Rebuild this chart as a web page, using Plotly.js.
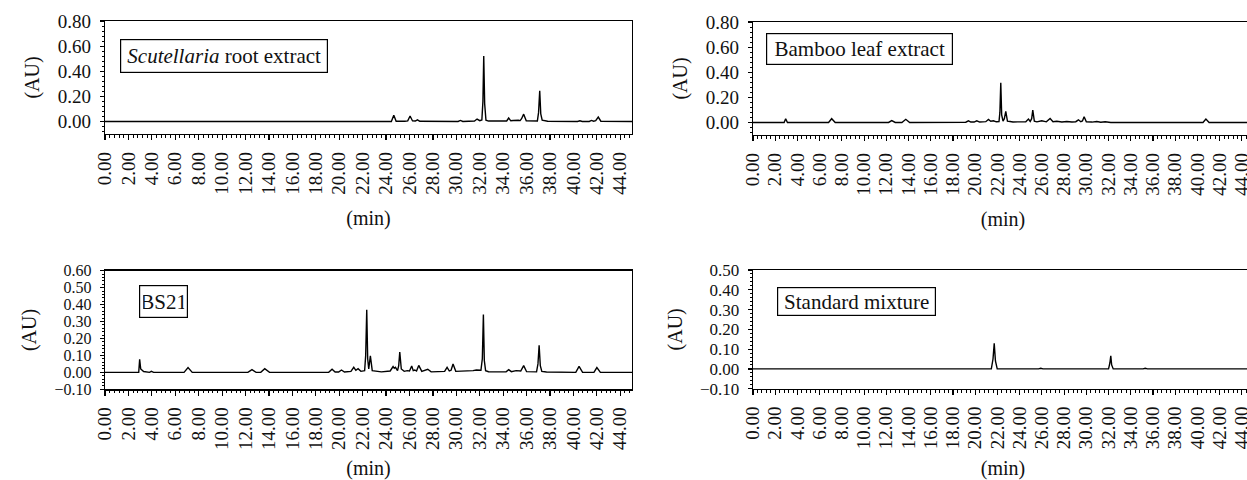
<!DOCTYPE html>
<html>
<head>
<meta charset="utf-8">
<script src="https://cdn.plot.ly/plotly-3.0.1.min.js"></script>
<style>
html,body{margin:0;padding:0;background:#fff;overflow:hidden;}
#chart{width:1260px;height:480px;}
</style>
</head>
<body>
<div id="chart"></div>
<script>
// ---- data ----
const panelLabels = ["<i>Scutellaria</i> root extract", "Bamboo leaf extract", "BS21", "Standard mixture"];
const xTickVals = [0,2,4,6,8,10,12,14,16,18,20,22,24,26,28,30,32,34,36,38,40,42,44];
const yTicksTop = [0, 0.2, 0.4, 0.6, 0.8];
const yTicksBS21 = [-0.1, 0, 0.1, 0.2, 0.3, 0.4, 0.5, 0.6];
const yTicksStd = [-0.1, 0, 0.1, 0.2, 0.3, 0.4, 0.5];

// Scutellaria root extract
const t1 = [0, 17.6, 17.8, 18.0, 21.6, 21.84, 22.1, 24.45, 24.66, 24.86, 25.6, 25.85, 26.05, 26.26, 26.5, 26.68, 26.88, 30.15, 30.35, 30.55, 31.55, 31.77, 32.0, 32.18, 32.27, 32.34, 32.42, 32.53, 32.75, 33.7, 33.9, 34.1, 34.3, 34.47, 34.65, 34.85, 35.02, 35.15, 35.3, 35.45, 35.57, 35.75, 35.97, 36.92, 37.02, 37.12, 37.21, 37.33, 37.56, 37.8, 40.35, 40.55, 40.75, 41.35, 41.54, 41.72, 41.9, 42.12, 42.34, 45];
const au1 = [0, 0, 0.003, 0, 0, 0.003, 0, 0, 0.05, 0.002, 0.002, 0.005, 0.043, 0.004, 0.003, 0.013, 0.001, 0, 0.008, 0, 0.004, 0.019, 0.006, 0.012, 0.16, 0.521, 0.14, 0.01, 0.003, 0.002, 0.005, 0.002, 0.004, 0.027, 0.005, 0.007, 0.009, 0.006, 0.009, 0.007, 0.022, 0.058, 0.006, 0.004, 0.07, 0.245, 0.06, 0.01, 0.005, 0.002, 0, 0.005, 0, 0, 0.008, 0.002, 0.006, 0.035, 0.002, 0];

// Bamboo leaf extract
const t2 = [0, 2.8, 2.94, 3.1, 6.8, 7.08, 7.4, 12.2, 12.49, 12.8, 13.4, 13.75, 14.1, 16.4, 16.6, 16.8, 19.15, 19.39, 19.6, 19.9, 20.14, 20.4, 20.95, 21.19, 21.4, 21.64, 21.9, 22.14, 22.22, 22.3, 22.38, 22.5, 22.62, 22.75, 22.9, 23.14, 23.4, 24.55, 24.79, 24.95, 25.08, 25.18, 25.32, 25.55, 25.99, 26.4, 26.74, 27.0, 27.34, 27.8, 28.24, 28.7, 29.05, 29.29, 29.5, 29.65, 29.8, 30.0, 30.5, 30.94, 31.3, 31.7, 32.2, 40.5, 40.76, 41.05, 45];
const au2 = [0, 0, 0.03, 0, 0, 0.03, 0, 0, 0.015, 0, 0, 0.025, 0, 0, 0.003, 0, 0.002, 0.013, 0.003, 0.003, 0.013, 0.003, 0.006, 0.024, 0.01, 0.013, 0.005, 0.006, 0.08, 0.316, 0.06, 0.01, 0.03, 0.088, 0.01, 0.008, 0.004, 0.006, 0.027, 0.008, 0.03, 0.099, 0.01, 0.005, 0.013, 0.005, 0.032, 0.006, 0.01, 0.004, 0.008, 0.004, 0.006, 0.021, 0.006, 0.012, 0.046, 0.005, 0.003, 0.008, 0.002, 0.005, 0, 0, 0.027, 0, 0];

// BS21
const t3 = [0, 2.88, 2.96, 3.05, 3.3, 3.8, 3.96, 4.15, 6.75, 7.09, 7.45, 12.2, 12.55, 12.9, 13.3, 13.64, 14.05, 19.1, 19.39, 19.65, 19.95, 20.19, 20.45, 21.0, 21.24, 21.42, 21.61, 21.85, 22.17, 22.26, 22.35, 22.43, 22.52, 22.66, 22.82, 23.3, 23.6, 24.35, 24.6, 24.7, 24.8, 24.98, 25.08, 25.17, 25.3, 25.55, 25.8, 26.0, 26.19, 26.32, 26.45, 26.6, 26.79, 27.05, 27.56, 27.85, 28.6, 29.0, 29.21, 29.4, 29.55, 29.72, 29.95, 30.72, 31.43, 31.71, 32.1, 32.22, 32.31, 32.39, 32.5, 32.75, 33.4, 34.25, 34.47, 34.7, 35.1, 35.5, 35.75, 36.0, 36.85, 36.97, 37.07, 37.17, 37.3, 37.7, 40.2, 40.48, 40.78, 41.75, 42.0, 42.3, 45];
const au3 = [0, 0, 0.077, 0.02, 0.005, 0, 0.006, 0, 0, 0.028, 0, 0, 0.016, 0, 0, 0.022, 0, 0, 0.018, 0.002, 0.002, 0.014, 0.002, 0.006, 0.03, 0.012, 0.022, 0.006, 0.01, 0.1, 0.369, 0.08, 0.02, 0.097, 0.01, 0.006, 0.003, 0.008, 0.034, 0.024, 0.03, 0.01, 0.04, 0.12, 0.02, 0.006, 0.01, 0.008, 0.038, 0.01, 0.014, 0.008, 0.041, 0.006, 0.018, 0.003, 0.006, 0.006, 0.03, 0.008, 0.012, 0.049, 0.006, 0.006, 0.01, 0.014, 0.012, 0.08, 0.342, 0.07, 0.01, 0.004, 0.002, 0.003, 0.016, 0.004, 0.01, 0.008, 0.04, 0.004, 0.003, 0.05, 0.16, 0.04, 0.006, 0.002, 0, 0.035, 0, 0, 0.028, 0, 0];

// Standard mixture
const t4 = [0, 2.7, 2.9, 3.1, 3.6, 3.8, 4.0, 21.45, 21.6, 21.71, 21.82, 21.98, 25.7, 25.9, 26.1, 32.0, 32.12, 32.2, 32.28, 32.42, 35.1, 35.3, 35.5, 36.5, 36.7, 36.9, 42.0, 42.2, 42.4, 45];
const au4 = [0, 0, 0.002, 0, 0, 0.002, 0, 0, 0.05, 0.129, 0.04, 0, 0, 0.003, 0, 0, 0.03, 0.066, 0.02, 0, 0, 0.003, 0, 0, 0.003, 0, 0, 0.003, 0, 0];

// ---- layout geometry (pixels) ----
const W = 1260, H = 480;
const FONT = "Liberation Serif, Times New Roman, serif";
const fx = p => p / W;
const fy = p => 1 - p / H;

const panels = [
  {t: t1, v: au1, x0: 105, x1: 632, y0: 21, y1: 134, yr: [-0.1, 0.8], yt: yTicksTop, minor: 0.04, yfs: 19,
   box: {cx: 223.5, cy: 56, w: 200, h: 26}},
  {t: t2, v: au2, x0: 753, x1: 1253, y0: 22, y1: 135, yr: [-0.1, 0.8], yt: yTicksTop, minor: 0.04, yfs: 19,
   box: {cx: 859, cy: 49, w: 179, h: 24}},
  {t: t3, v: au3, x0: 105, x1: 632, y0: 270.7, y1: 389.3, yr: [-0.1, 0.6], yt: yTicksBS21, minor: 0.02, yfs: 16,
   box: {cx: 163.8, cy: 301, w: 41, h: 25}},
  {t: t4, v: au4, x0: 753, x1: 1253, y0: 270, y1: 388.7, yr: [-0.1, 0.5], yt: yTicksStd, minor: 0.02, yfs: 17,
   box: {cx: 856, cy: 301.3, w: 151, h: 21}}
];

const data = [];
const layout = {
  width: W, height: H,
  margin: {l: 0, r: 0, t: 0, b: 0},
  paper_bgcolor: "#ffffff",
  plot_bgcolor: "#ffffff",
  showlegend: false,
  font: {family: FONT, size: 19, color: "#111"},
  annotations: []
};

panels.forEach((p, i) => {
  const n = i === 0 ? "" : String(i + 1);
  data.push({
    type: "scatter", mode: "lines",
    x: p.t, y: p.v,
    xaxis: "x" + n, yaxis: "y" + n,
    line: {color: "#000", width: 1.4},
    hoverinfo: "skip"
  });
  layout["xaxis" + n] = {
    domain: [fx(p.x0), fx(p.x1)],
    anchor: "y" + n,
    range: [0, 45],
    tickmode: "array",
    tickvals: xTickVals,
    tickformat: ".2f",
    tickangle: -90,
    ticks: "outside", ticklen: 5, tickwidth: 1.2, tickcolor: "#000",
    minor: {dtick: 0.4, tick0: 0, ticks: "outside", ticklen: 2.5, tickwidth: 1, tickcolor: "#000"},
    ticklabelstandoff: 4,
    showline: true, mirror: true, linecolor: "#000", linewidth: 1.3,
    showgrid: false, zeroline: false,
    tickfont: {family: FONT, size: 19, color: "#111"},
    title: {text: "(min)", font: {family: FONT, size: 20, color: "#111"}, standoff: 17}
  };
  layout["yaxis" + n] = {
    domain: [fy(p.y1), fy(p.y0)],
    anchor: "x" + n,
    range: p.yr,
    tickmode: "array",
    tickvals: p.yt,
    tickformat: ".2f",
    ticks: "outside", ticklen: 4, tickwidth: 1.2, tickcolor: "#000",
    minor: {dtick: p.minor, tick0: 0, ticks: "outside", ticklen: 2, tickwidth: 1, tickcolor: "#000"},
    ticklabelstandoff: 5,
    showline: true, mirror: true, linecolor: "#000", linewidth: 1.3,
    showgrid: false, zeroline: false,
    tickfont: {family: FONT, size: p.yfs, color: "#111"},
    title: {text: "(AU)", font: {family: FONT, size: 20, color: "#111"}, standoff: 12}
  };
  layout.annotations.push({
    text: panelLabels[i],
    xref: "paper", yref: "paper",
    x: fx(p.box.cx), y: fy(p.box.cy),
    xanchor: "center", yanchor: "middle",
    showarrow: false,
    width: p.box.w, height: p.box.h,
    align: "center", valign: "middle",
    font: {family: FONT, size: 21, color: "#111"},
    bordercolor: "#000", borderwidth: 1.2, borderpad: 3,
    bgcolor: "#fff"
  });
});

Plotly.newPlot("chart", data, layout, {staticPlot: true, displayModeBar: false});
</script>
</body>
</html>
